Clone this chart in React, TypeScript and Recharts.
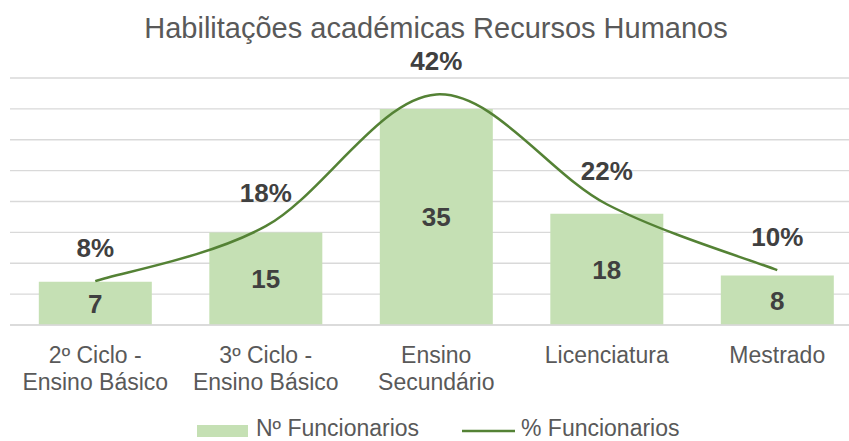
import React from "react";
import { ComposedChart, Bar, Line, XAxis, YAxis, CartesianGrid, LabelList, Legend } from "recharts";

const categories = ["2º Ciclo -\nEnsino Básico", "3º Ciclo -\nEnsino Básico", "Ensino\nSecundário", "Licenciatura", "Mestrado"];
const numFuncionarios = [7, 15, 35, 18, 8];
const pctFuncionarios = [8, 18, 42, 22, 10];
const leftTicks = [0, 5, 10, 15, 20, 25, 30, 35, 40];

const data = categories.map((c, i) => ({ cat: c, n: numFuncionarios[i], p: pctFuncionarios[i] }));

const FONT = "'Liberation Sans', Arial, sans-serif";

// Excel-like smoothing (uniform Catmull-Rom as cubic Bezier)
const excelSmooth: any = (context: any) => {
  let pts: [number, number][] = [];
  return {
    areaStart() {},
    areaEnd() {},
    lineStart() {
      pts = [];
    },
    lineEnd() {
      if (!pts.length) return;
      context.moveTo(pts[0][0], pts[0][1]);
      for (let i = 0; i < pts.length - 1; i++) {
        const p0 = pts[i - 1] || pts[i];
        const p1 = pts[i];
        const p2 = pts[i + 1];
        const p3 = pts[i + 2] || p2;
        context.bezierCurveTo(
          p1[0] + (p2[0] - p0[0]) / 6,
          p1[1] + (p2[1] - p0[1]) / 6,
          p2[0] - (p3[0] - p1[0]) / 6,
          p2[1] - (p3[1] - p1[1]) / 6,
          p2[0],
          p2[1]
        );
      }
    },
    point(x: number, y: number) {
      pts.push([+x, +y]);
    },
  };
};

const CatTick = (props: any) => {
  const { x, y, payload } = props;
  const lines = String(payload.value).split("\n");
  return (
    <text x={x} y={y} textAnchor="middle" fill="#595959" fontSize={23} fontFamily={FONT}>
      {lines.map((l, i) => (
        <tspan key={i} x={x} y={y + 30 + i * 27}>
          {l}
        </tspan>
      ))}
    </text>
  );
};

const PctLabel = (props: any) => {
  const { x, y, value } = props;
  return (
    <text x={x} y={y - 33 + 9} textAnchor="middle" fill="#404040" fontSize={26} fontWeight="bold" fontFamily={FONT}>
      {value}%
    </text>
  );
};

const LegendContent = () => (
  <svg width={870} height={32} style={{ display: "block" }}>
    <rect x={197} y={16} width={51} height={12} fill="#C5E0B4" />
    <text x={256} y={27} fill="#595959" fontSize={23} fontFamily={FONT}>
      Nº Funcionarios
    </text>
    <line x1={462} y1={22} x2={515} y2={22} stroke="#548235" strokeWidth={2.5} />
    <text x={521} y={27} fill="#595959" fontSize={23} fontFamily={FONT}>
      % Funcionarios
    </text>
  </svg>
);

export default function App() {
  return (
    <div style={{ position: "absolute", left: 0, top: 0, width: 849, height: 441, overflow: "hidden", background: "#fff" }}>
      <div
        style={{
          position: "absolute",
          left: 10,
          top: 12,
          width: 852,
          textAlign: "center",
          fontFamily: FONT,
          fontSize: 29,
          lineHeight: "32px",
          color: "#595959",
          zIndex: 2,
        }}
      >
        Habilitações académicas Recursos Humanos
      </div>
      <ComposedChart width={870} height={441} data={data} margin={{ top: 78, right: 7.5, bottom: 0, left: 10 }} barCategoryGap="16.9%">
        <CartesianGrid yAxisId="left" vertical={false} stroke="#D9D9D9" strokeWidth={1.3} />
        <XAxis dataKey="cat" tick={<CatTick />} tickLine={false} axisLine={{ stroke: "#D9D9D9", strokeWidth: 1.5 }} height={84} interval={0} />
        <YAxis yAxisId="left" domain={[0, 40]} ticks={leftTicks} hide />
        <YAxis yAxisId="right" orientation="right" domain={[0, 45]} hide />
        <Legend verticalAlign="bottom" content={<LegendContent />} wrapperStyle={{ left: 0, width: 870, height: 32 }} />
        <Bar yAxisId="left" dataKey="n" fill="#C5E0B4" isAnimationActive={false}>
          <LabelList dataKey="n" position="center" fill="#404040" fontSize={26} fontWeight="bold" fontFamily={FONT} />
        </Bar>
        <Line yAxisId="right" dataKey="p" type={excelSmooth} stroke="#548235" strokeWidth={2.5} dot={false} activeDot={false} isAnimationActive={false}>
          <LabelList dataKey="p" content={<PctLabel />} />
        </Line>
      </ComposedChart>
    </div>
  );
}
